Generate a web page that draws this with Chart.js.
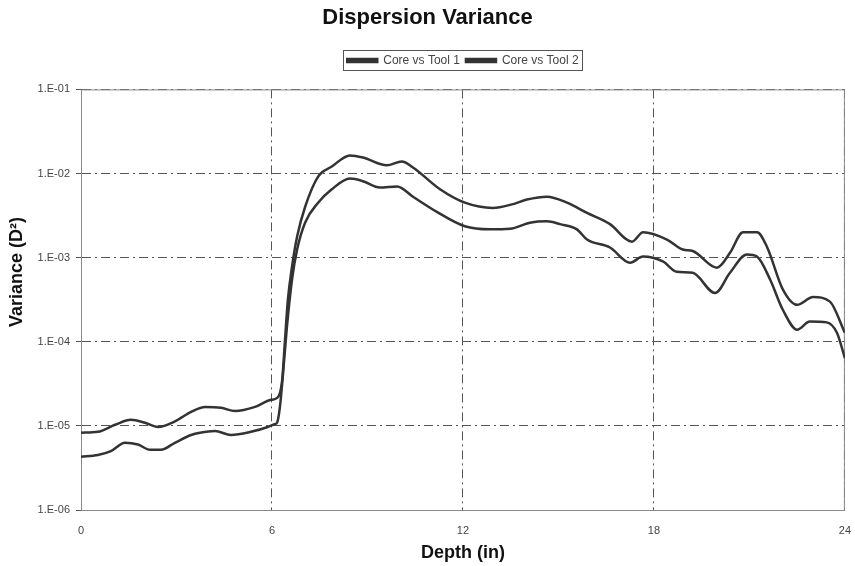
<!DOCTYPE html>
<html>
<head>
<meta charset="utf-8">
<script src="https://cdn.jsdelivr.net/npm/chart.js@4"></script>
<style>
  html, body { margin: 0; padding: 0; background: #fff; }
  #wrap { width: 855px; height: 566px; }
</style>
</head>
<body>
<div id="wrap"><canvas id="dispChart"></canvas></div>
<script>
// depth (in) and dispersion variance readings for each tool
const depthTool1 = [0, 0.53, 0.94, 1.38, 1.79, 2.17, 2.51, 2.95, 3.46, 3.74, 4.21, 4.71, 5.34, 5.87, 6.09, 6.16, 6.25, 6.35, 6.47, 6.63, 6.79, 7.04, 7.45, 7.88, 8.45, 8.86, 9.39, 9.93, 10.43, 11.18, 12.06, 12.85, 13.48, 14.1, 14.64, 15.05, 15.58, 15.9, 16.62, 17.25, 17.66, 18.28, 18.72, 19.22, 19.92, 20.39, 20.92, 21.24, 21.65, 22.05, 22.5, 22.9, 23.43, 23.75, 24];
const varTool1 = [4.3e-6, 4.5e-6, 5.0e-6, 6.3e-6, 6.0e-6, 5.2e-6, 5.2e-6, 6.3e-6, 7.8e-6, 8.3e-6, 8.7e-6, 7.8e-6, 8.5e-6, 9.7e-6, 1.05e-5, 1.09e-5, 1.68e-5, 4.3e-5, 1.5e-4, 5.5e-4, 1.25e-3, 2.6e-3, 4.5e-3, 6.5e-3, 8.7e-3, 8.1e-3, 6.8e-3, 7.0e-3, 5.3e-3, 3.5e-3, 2.36e-3, 2.17e-3, 2.2e-3, 2.6e-3, 2.7e-3, 2.5e-3, 2.17e-3, 1.64e-3, 1.32e-3, 8.7e-4, 1.03e-3, 9.0e-4, 6.8e-4, 6.6e-4, 3.8e-4, 6.6e-4, 1.09e-3, 1.03e-3, 5.5e-4, 2.4e-4, 1.39e-4, 1.74e-4, 1.7e-4, 1.28e-4, 6.4e-5];

const depthTool2 = [0, 0.53, 1.07, 1.57, 2.01, 2.42, 2.95, 3.46, 3.9, 4.4, 4.84, 5.47, 5.97, 6.16, 6.32, 6.41, 6.5, 6.63, 6.79, 7.04, 7.45, 7.88, 8.45, 8.86, 9.61, 10.08, 10.43, 11.28, 12.06, 12.94, 13.54, 14.01, 14.64, 15.27, 15.9, 16.62, 17.31, 17.66, 18.41, 18.91, 19.22, 19.98, 20.39, 20.8, 21.24, 21.55, 22.05, 22.5, 23.0, 23.53, 24];
const varTool2 = [8.3e-6, 8.5e-6, 1.03e-5, 1.18e-5, 1.09e-5, 9.7e-6, 1.13e-5, 1.47e-5, 1.68e-5, 1.64e-5, 1.5e-5, 1.68e-5, 2.04e-5, 2.15e-5, 3.5e-5, 1.06e-4, 3.16e-4, 7.8e-4, 1.78e-3, 4.0e-3, 9.2e-3, 1.21e-2, 1.64e-2, 1.55e-2, 1.25e-2, 1.39e-2, 1.18e-2, 6.5e-3, 4.5e-3, 3.9e-3, 4.3e-3, 4.9e-3, 5.3e-3, 4.5e-3, 3.4e-3, 2.5e-3, 1.55e-3, 2.0e-3, 1.64e-3, 1.25e-3, 1.2e-3, 7.6e-4, 1.14e-3, 2.0e-3, 2.0e-3, 1.35e-3, 4.2e-4, 2.75e-4, 3.4e-4, 3.0e-4, 1.28e-4];

const yTicks = [1e-6, 1e-5, 1e-4, 1e-3, 1e-2, 1e-1];
const yTickLabels = ['1.E-06', '1.E-05', '1.E-04', '1.E-03', '1.E-02', '1.E-01'];
const xTicks = [0, 6, 12, 18, 24];

const lineColor = '#333333';
const gridColor = '#555555';
const dashDot = [9, 4, 2, 4];
const font = 'Liberation Sans, Arial, sans-serif';

const toPoints = (xs, ys) => xs.map((x, i) => ({ x: x, y: ys[i] }));

// frame round the plot area, legend box and the y axis title
const framePlugin = {
    id: 'frames',
    beforeDatasetsDraw(chart) {
        const a = chart.chartArea;
        const c = chart.ctx;
        c.save();
        c.strokeStyle = '#8a8a8a';
        c.lineWidth = 1;
        c.strokeRect(a.left + 0.5, a.top + 0.5, a.right - a.left - 1, a.bottom - a.top);
        c.restore();
    },
    afterDraw(chart) {
        const c = chart.ctx;
        const boxes = chart.legend.legendHitBoxes;
        if (boxes && boxes.length) {
            let l = Infinity, r = -Infinity, t = Infinity, b = -Infinity;
            boxes.forEach(h => {
                l = Math.min(l, h.left); r = Math.max(r, h.left + h.width);
                t = Math.min(t, h.top); b = Math.max(b, h.top + h.height);
            });
            c.save();
            c.strokeStyle = '#555';
            c.lineWidth = 1;
            c.strokeRect(Math.round(l - 4) + 0.5, Math.round(t - 4) + 0.5, Math.round(r - l + 8), Math.round(b - t + 8));
            c.restore();
        }
        c.save();
        c.translate(17, 272);
        c.rotate(-Math.PI / 2);
        c.fillStyle = '#111';
        c.font = 'bold 18px ' + font;
        c.textAlign = 'center';
        c.textBaseline = 'middle';
        c.fillText('Variance (D²)', 0, 0);
        c.restore();
    }
};

// extra room between legend and plot
const legendGap = {
    id: 'legendGap',
    beforeInit(chart) {
        const fit = chart.legend.fit;
        chart.legend.fit = function () {
            fit.bind(chart.legend)();
            this.height += 13;
        };
    }
};

new Chart(document.getElementById('dispChart'), {
    type: 'line',
    data: {
        datasets: [{
            label: 'Core vs Tool 1',
            data: toPoints(depthTool1, varTool1),
            borderColor: lineColor,
            backgroundColor: lineColor,
            borderWidth: 2.5,
            pointRadius: 0,
            cubicInterpolationMode: 'monotone'
        }, {
            label: 'Core vs Tool 2',
            data: toPoints(depthTool2, varTool2),
            borderColor: lineColor,
            backgroundColor: lineColor,
            borderWidth: 2.5,
            pointRadius: 0,
            cubicInterpolationMode: 'monotone'
        }]
    },
    options: {
        responsive: true,
        maintainAspectRatio: false,
        animation: false,
        layout: { padding: { left: 0, right: 0, top: 0, bottom: 0 } },
        plugins: {
            title: {
                display: true,
                text: 'Dispersion Variance',
                color: '#111',
                font: { family: font, size: 22, weight: 'bold' },
                padding: { top: 5, bottom: 17 }
            },
            legend: {
                display: true,
                position: 'top',
                fullSize: false,
                labels: {
                    color: '#444',
                    boxWidth: 30,
                    boxHeight: 3,
                    padding: 6,
                    font: { family: font, size: 12 }
                }
            },
            tooltip: { enabled: false }
        },
        scales: {
            x: {
                type: 'linear',
                min: 0,
                max: 24,
                afterBuildTicks: axis => { axis.ticks = xTicks.map(v => ({ value: v })); },
                afterFit: axis => { axis.height = 56; },
                grid: {
                    color: gridColor,
                    lineWidth: 1,
                    drawTicks: true,
                    tickLength: 10,
                    tickColor: 'rgba(0,0,0,0)'
                },
                border: { display: true, color: '#555', width: 1, dash: dashDot },
                ticks: {
                    color: '#444',
                    padding: 4,
                    maxRotation: 0,
                    font: { family: font, size: 11 }
                },
                title: {
                    display: true,
                    text: 'Depth (in)',
                    color: '#111',
                    font: { family: font, size: 18, weight: 'bold' },
                    padding: { top: 0, bottom: 2 }
                }
            },
            y: {
                type: 'logarithmic',
                min: 1e-6,
                max: 1e-1,
                afterBuildTicks: axis => { axis.ticks = yTicks.map(v => ({ value: v })); },
                afterFit: axis => { axis.width = 81; },
                grid: {
                    color: gridColor,
                    lineWidth: 1,
                    tickLength: 5,
                    tickColor: '#555',
                    tickBorderDash: []
                },
                border: { display: true, color: '#555', width: 1, dash: dashDot },
                ticks: {
                    color: '#444',
                    padding: 6,
                    font: { family: font, size: 11 },
                    callback: value => yTickLabels[yTicks.indexOf(value)]
                }
            }
        }
    },
    plugins: [framePlugin, legendGap]
});
</script>
</body>
</html>
